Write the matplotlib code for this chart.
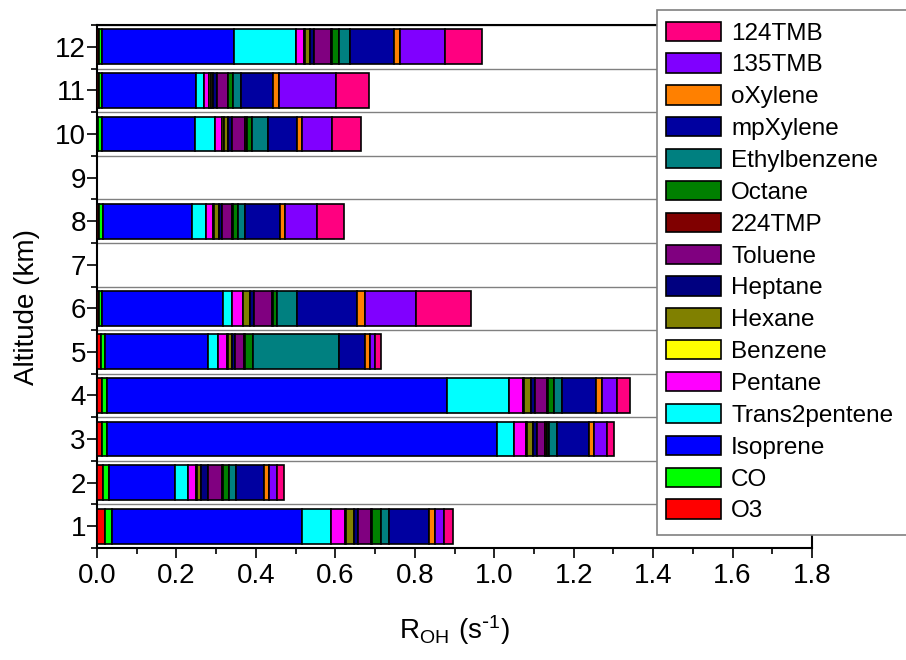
"""
Stacked OH reactivity (R_OH) by species for each altitude level.
Horizontal bars, one per altitude (no data at 7 and 9 km).
"""
import numpy as np
import matplotlib
matplotlib.use("Agg")
import matplotlib.pyplot as plt
from matplotlib.patches import Rectangle
from matplotlib.ticker import MultipleLocator, FormatStrFormatter

plt.rcParams["font.family"] = ["Liberation Sans", "DejaVu Sans"]

altitudes = [1, 2, 3, 4, 5, 6, 8, 10, 11, 12]

# contributions (s^-1), stacking order from the axis outwards
species = ["O3", "CO", "Isoprene", "Trans2pentene", "Pentane", "Benzene",
           "Hexane", "Heptane", "Toluene", "224TMP", "Octane", "Ethylbenzene",
           "mpXylene", "oXylene", "135TMB", "124TMB"]
O3 = [0.020, 0.016, 0.013, 0.013, 0.010, 0.006, 0.006, 0.003, 0.005, 0.006]
CO = [0.017, 0.013, 0.013, 0.013, 0.009, 0.007, 0.010, 0.009, 0.007, 0.007]
isoprene = [0.479, 0.167, 0.980, 0.856, 0.261, 0.303, 0.222, 0.235, 0.237, 0.333]
trans2pentene = [0.072, 0.032, 0.044, 0.156, 0.025, 0.025, 0.036, 0.050, 0.021, 0.154]
pentane = [0.036, 0.021, 0.029, 0.035, 0.023, 0.026, 0.019, 0.018, 0.013, 0.021]
benzene = [0.004, 0.004, 0.003, 0.003, 0.003, 0.001, 0.002, 0.005, 0.003, 0.003]
hexane = [0.020, 0.010, 0.016, 0.016, 0.008, 0.017, 0.013, 0.009, 0.005, 0.012]
heptane = [0.010, 0.017, 0.009, 0.010, 0.008, 0.011, 0.007, 0.012, 0.010, 0.011]
toluene = [0.033, 0.034, 0.021, 0.032, 0.024, 0.044, 0.026, 0.032, 0.028, 0.043]
tmp224 = [0.002, 0.002, 0.004, 0.002, 0.002, 0.004, 0.002, 0.005, 0.002, 0.002]
octane = [0.021, 0.017, 0.006, 0.014, 0.019, 0.010, 0.011, 0.011, 0.012, 0.016]
ethylbenzene = [0.022, 0.016, 0.021, 0.020, 0.218, 0.049, 0.019, 0.041, 0.019, 0.029]
mpxylene = [0.100, 0.071, 0.080, 0.086, 0.065, 0.151, 0.088, 0.074, 0.080, 0.110]
oxylene = [0.016, 0.014, 0.013, 0.016, 0.012, 0.021, 0.012, 0.011, 0.016, 0.017]
tmb135 = [0.021, 0.018, 0.031, 0.036, 0.014, 0.127, 0.080, 0.076, 0.143, 0.113]
tmb124 = [0.024, 0.019, 0.018, 0.034, 0.014, 0.139, 0.070, 0.073, 0.084, 0.092]

series = [O3, CO, isoprene, trans2pentene, pentane, benzene, hexane, heptane,
          toluene, tmp224, octane, ethylbenzene, mpxylene, oxylene, tmb135, tmb124]
colors = ["#FF0000", "#00FF00", "#0000FF", "#00FFFF", "#FF00FF", "#FFFF00",
          "#808000", "#000080", "#800080", "#800000", "#008000", "#008080",
          "#0000A0", "#FF8000", "#8000FF", "#FF0080"]


def main():
    fig = plt.figure(figsize=(9.06, 6.60), dpi=100)
    ax = fig.add_axes([97 / 906, 112 / 660, 715 / 906, 523 / 660])

    left = np.zeros(len(altitudes))
    handles = []
    for name, vals, col in zip(species, series, colors):
        b = ax.barh(altitudes, vals, left=left, height=0.8, color=col,
                    edgecolor="black", linewidth=1.2, label=name, zorder=3)
        left += np.array(vals)
        handles.append(b)

    ax.set_xlim(0, 1.8)
    ax.set_ylim(0.5, 12.5)
    ax.xaxis.set_major_locator(MultipleLocator(0.2))
    ax.xaxis.set_minor_locator(MultipleLocator(0.1))
    ax.yaxis.set_major_locator(MultipleLocator(1))
    ax.yaxis.set_minor_locator(MultipleLocator(0.5))
    ax.xaxis.set_major_formatter(FormatStrFormatter("%.1f"))
    ax.tick_params(axis="both", which="major", labelsize=20, width=1.2, length=7)
    ax.tick_params(axis="both", which="minor", width=1.2, length=4)
    ax.tick_params(axis="y", pad=1)
    ax.grid(which="minor", axis="y", color="#808080", lw=1.0, zorder=1)
    for s in ax.spines.values():
        s.set_linewidth(1.5)

    ax.set_ylabel("Altitude (km)", fontsize=20)
    ax.yaxis.set_label_coords(-0.08, 0.46)
    ax.set_xlabel(r"$\mathregular{R_{OH}\ (s^{\text{-}1})}$", fontsize=20, labelpad=18)

    # legend box runs off the right edge of the figure, as in the original
    box = Rectangle((657 / 906, 1 - 535 / 660), 0.4, 525 / 660,
                    transform=fig.transFigure, facecolor="white",
                    edgecolor="#808080", lw=1.2, zorder=5)
    fig.patches.append(box)
    leg = fig.legend(handles[::-1], species[::-1], loc="upper left",
                     bbox_to_anchor=(657 / 906, 1 - 13 / 660), fontsize=17.5,
                     frameon=False, handlelength=2.3, handleheight=0.85,
                     handletextpad=0.4, labelspacing=0.36, borderpad=0.35,
                     borderaxespad=0)
    leg.set_zorder(6)

    fig.savefig("out.png", dpi=100)


if __name__ == "__main__":
    main()
